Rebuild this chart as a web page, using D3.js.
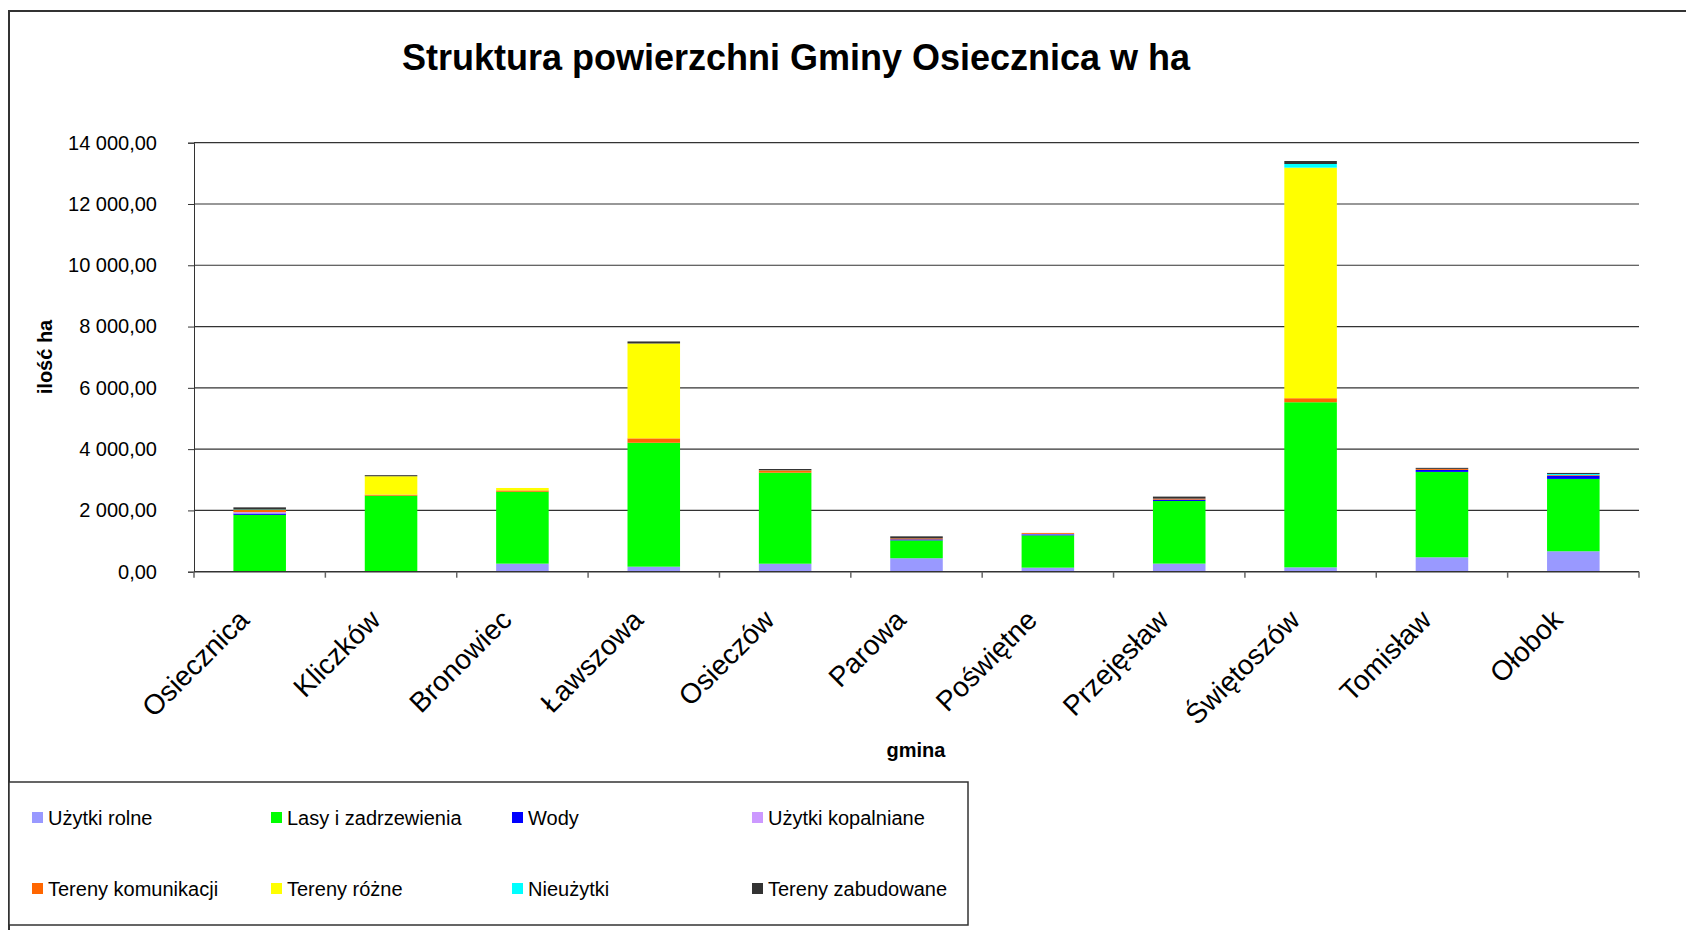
<!DOCTYPE html>
<html>
<head>
  <meta charset="utf-8">
  <title>Struktura powierzchni Gminy Osiecznica w ha</title>
  <script src="https://cdn.jsdelivr.net/npm/d3@7"></script>
  <style>
    body { margin: 0; background: #ffffff; }
    svg { display: block; font-family: "Liberation Sans", Arial, sans-serif; }
    .axis path, .axis line { stroke: #333; }
    .axis text { font-size: 20px; fill: #000; }
  </style>
</head>
<body>
<script>
  // Dane
  const gminy = ["Osiecznica", "Kliczków", "Bronowiec", "Ławszowa", "Osieczów", "Parowa",
    "Poświętne", "Przejęsław", "Świętoszów", "Tomisław", "Ołobok"];

  const kategorie = ["Użytki rolne", "Lasy i zadrzewienia", "Wody", "Użytki kopalniane",
    "Tereny komunikacji", "Tereny różne", "Nieużytki", "Tereny zabudowane"];

  const uzytkiRolne = [15, 0, 263, 164, 261, 440, 132, 264, 142, 470, 667];
  const lasy = [1840, 2480, 2345, 4044, 2970, 582, 1055, 2044, 5388, 2787, 2361];
  const wody = [45, 0, 0, 0, 0, 33, 33, 44, 0, 66, 109];
  const kopalniane = [45, 0, 0, 0, 0, 0, 15, 0, 0, 0, 0];
  const komunikacji = [65, 35, 44, 143, 65, 33, 30, 33, 131, 33, 20];
  const rozne = [10, 600, 80, 3097, 10, 0, 0, 0, 7524, 0, 0];
  const nieuzytki = [10, 0, 0, 0, 0, 0, 0, 0, 120, 0, 33];
  const zabudowane = [70, 35, 0, 66, 45, 66, 0, 66, 98, 33, 33];

  const yTicks = [0, 2000, 4000, 6000, 8000, 10000, 12000, 14000];

  const kolory = ["#9999ff", "#00ff00", "#0000ff", "#cc99ff",
    "#ff6600", "#ffff00", "#00ffff", "#333333"];

  // tabela dla d3.stack
  const serie = [uzytkiRolne, lasy, wody, kopalniane, komunikacji, rozne, nieuzytki, zabudowane];
  const tabela = gminy.map(function (g, i) {
    const row = { gmina: g };
    kategorie.forEach(function (k, j) { row[k] = serie[j][i]; });
    return row;
  });

  const w = 1686;
  const h = 930;
  const plotLeft = 194, plotRight = 1639, plotTop = 142.7, plotBottom = 571.7;

  const svg = d3.select("body").append("svg")
    .attr("width", w)
    .attr("height", h);

  // ramka wykresu
  svg.append("path")
    .attr("d", `M9,${h} L9,11 L${w},11`)
    .attr("fill", "none")
    .attr("stroke", "#333")
    .attr("stroke-width", 2);

  // tytuł
  svg.append("text")
    .attr("x", 796)
    .attr("y", 70)
    .attr("text-anchor", "middle")
    .attr("font-size", "36px")
    .attr("font-weight", "bold")
    .text("Struktura powierzchni Gminy Osiecznica w ha");

  const xScale = d3.scaleBand()
    .domain(gminy)
    .range([plotLeft, plotRight]);

  const yScale = d3.scaleLinear()
    .domain([0, 14000])
    .range([plotBottom, plotTop]);

  const loc = d3.formatLocale({ decimal: ",", thousands: " ", grouping: [3], currency: ["", ""] });
  const fmt = loc.format(",.2f");

  // linie siatki
  svg.selectAll("line.grid")
    .data(yTicks.filter(function (d) { return d > 0; }))
    .enter()
    .append("line")
    .attr("class", "grid")
    .attr("x1", plotLeft)
    .attr("x2", plotRight)
    .attr("y1", function (d) { return yScale(d); })
    .attr("y2", function (d) { return yScale(d); })
    .attr("stroke", "#333")
    .attr("stroke-width", 1.2);

  // słupki
  const stack = d3.stack().keys(kategorie);
  const warstwy = stack(tabela);
  const bw = xScale.bandwidth();

  svg.selectAll("g.layer")
    .data(warstwy)
    .enter()
    .append("g")
    .attr("class", "layer")
    .attr("fill", function (d, i) { return kolory[i]; })
    .selectAll("rect")
    .data(function (d) { return d; })
    .enter()
    .append("rect")
    .attr("x", function (d) { return xScale(d.data.gmina) + bw * 0.3; })
    .attr("width", bw * 0.4)
    .attr("y", function (d) { return yScale(d[1]); })
    .attr("height", function (d) { return yScale(d[0]) - yScale(d[1]); });

  // oś Y
  const yAxis = d3.axisLeft(yScale)
    .tickValues(yTicks)
    .tickSize(6)
    .tickPadding(31)
    .tickFormat(fmt);
  svg.append("g")
    .attr("class", "axis")
    .attr("transform", `translate(${plotLeft},0)`)
    .call(yAxis);

  // oś X – kreski między kategoriami
  const granice = gminy.map(function (g) { return xScale(g); }).concat([plotRight]);
  svg.append("line")
    .attr("x1", plotLeft).attr("x2", plotRight)
    .attr("y1", plotBottom).attr("y2", plotBottom)
    .attr("stroke", "#333").attr("stroke-width", 1.5);
  svg.selectAll("line.xtick")
    .data(granice)
    .enter()
    .append("line")
    .attr("class", "xtick")
    .attr("x1", function (d) { return d; })
    .attr("x2", function (d) { return d; })
    .attr("y1", plotBottom)
    .attr("y2", plotBottom + 6)
    .attr("stroke", "#666")
    .attr("stroke-width", 1.5);

  // etykiety gmin
  svg.selectAll("text.xlabel")
    .data(gminy)
    .enter()
    .append("text")
    .attr("class", "xlabel")
    .attr("text-anchor", "end")
    .attr("font-size", "28px")
    .attr("transform", function (d) {
      return `translate(${xScale(d) + bw / 2 - 9},${plotBottom + 50}) rotate(-45)`;
    })
    .text(function (d) { return d; });

  // tytuły osi
  svg.append("text")
    .attr("transform", "translate(52,357) rotate(-90)")
    .attr("text-anchor", "middle")
    .attr("font-size", "20px")
    .attr("font-weight", "bold")
    .text("ilość ha");

  svg.append("text")
    .attr("x", 916)
    .attr("y", 757)
    .attr("text-anchor", "middle")
    .attr("font-size", "20px")
    .attr("font-weight", "bold")
    .text("gmina");

  // legenda
  svg.append("rect")
    .attr("x", 9).attr("y", 782)
    .attr("width", 959).attr("height", 143)
    .attr("fill", "#fff")
    .attr("stroke", "#333")
    .attr("stroke-width", 1.5);

  const kolX = [32, 271, 512, 752];
  const wierszY = [818, 889];
  const leg = svg.selectAll("g.leg")
    .data(kategorie)
    .enter()
    .append("g")
    .attr("class", "leg")
    .attr("transform", function (d, i) {
      return `translate(${kolX[i % 4]},${wierszY[Math.floor(i / 4)]})`;
    });
  leg.append("rect")
    .attr("x", 0).attr("y", -6)
    .attr("width", 11).attr("height", 11)
    .attr("fill", function (d, i) { return kolory[i]; });
  leg.append("text")
    .attr("x", 16)
    .attr("y", 7)
    .attr("font-size", "20px")
    .text(function (d) { return d; });
</script>
</body>
</html>
